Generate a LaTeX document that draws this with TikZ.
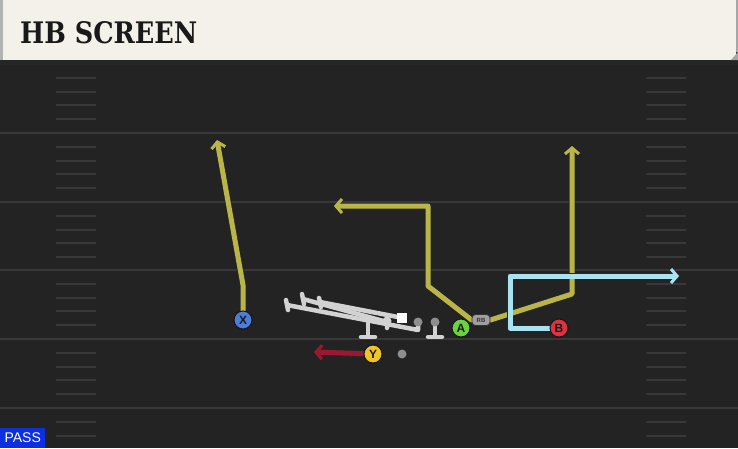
\documentclass[tikz,border=0pt]{standalone}
\usepackage{fontspec}
\setmainfont{Liberation Sans}
\newfontfamily\hdrfont{DejaVu Serif}
\usetikzlibrary{arrows.meta}
\definecolor{fieldbg}{HTML}{232323}
\definecolor{yardln}{HTML}{383838}
\definecolor{hdrbg}{HTML}{F4F1EA}
\definecolor{routeyel}{HTML}{BAB548}
\definecolor{routeblu}{HTML}{A9E3F1}
\definecolor{routered}{HTML}{9C1731}
\definecolor{olgray}{HTML}{D2D2D2}
\definecolor{dotgray}{HTML}{8E8E8E}
\definecolor{pX}{HTML}{4C7DD9}
\definecolor{pY}{HTML}{F0C424}
\definecolor{pA}{HTML}{6BD33C}
\definecolor{pB}{HTML}{E2323F}
\definecolor{passblue}{HTML}{0C2FE0}
\begin{document}
\begin{tikzpicture}[x=1pt,y=-1pt,
  player/.style={circle,draw=black!90,line width=1pt,minimum size=18pt,inner sep=0pt,font=\bfseries\fontsize{12}{12}\selectfont,text=black!90},
  rbbox/.style={fill=gray!75,draw=black!80,line width=0.8pt,rounded corners=3.5pt,minimum width=18pt,minimum height=11pt,inner sep=0pt,font=\bfseries\fontsize{6}{6}\selectfont,text=black!80},
  route/.style={line width=5pt,line join=round,line cap=round,preaction={draw=black!85,line width=6.5pt}},
  arrowed/.style={-{Straight Barb[length=6pt,width=14pt,line width=3pt]}},
  yard/.style={draw=yardln,line width=2.5pt},
  hashm/.style={draw=yardln,line width=2pt},
  oline/.style={draw=olgray,line width=4.5pt,line cap=round,line join=round}]
\useasboundingbox (0,0) rectangle (738,448);
% field
\fill[fieldbg] (0,0) rectangle (738,448);
\foreach \y in {133,202,270,339,408} \draw[yard] (0,\y) -- (738,\y);
\foreach \b in {64,133,202,270,339,408}{
  \foreach \k in {1,2,3,4}{
    \pgfmathsetmacro{\yy}{\b+13.75*\k}
    \ifdim \yy pt<446pt
      \draw[hashm] (56,\yy) -- (96,\yy);
      \draw[hashm] (646,\yy) -- (686,\yy);
    \fi
  }
}
% header
\fill[black!85] (0,58) rectangle (738,65);
\fill[hdrbg] (0,0) rectangle (736,60);
\fill[gray!60] (0,0) rectangle (3,60);
\fill[gray!70] (736,0) rectangle (738,52) -- (738,60) -- (731,60) -- cycle;
\node[anchor=base west,inner sep=0pt,text=black!90] (title) at (20,43) {\resizebox{177pt}{22pt}{\hdrfont\bfseries HB SCREEN}};
% pass badge
\node[fill=passblue,anchor=south west,minimum width=45pt,minimum height=20pt,inner sep=0pt,text=white,font=\fontsize{14}{14}\selectfont] (pass) at (0,448) {PASS};
% O-line
\draw[oline] (287,305) -- (418,330) -- (418,324);
\draw[oline] (303,299) -- (387,322) -- (387,328);
\draw[oline] (320,302) -- (403,318);
\draw[oline] (286,300) -- (288,310);
\draw[oline] (302,294) -- (304,304);
\draw[oline] (319,298) -- (321,307);
\draw[oline] (368,323) -- (368,336);
\draw[oline] (361,337) -- (375,337);
\draw[oline] (435,323) -- (435,336);
\draw[oline] (428,337) -- (442,337);
\fill[olgray] (387,321) circle (4.5pt);
\fill[white] (397,313) rectangle (407,323);
\fill[dotgray] (418,322) circle (4.5pt);
\fill[dotgray] (435,322) circle (4.5pt);
\node[circle,fill=dotgray,minimum size=9pt,inner sep=0pt] (ydot) at (402,354) {};
% players
\node[player,fill=pX] (X) at (243,320) {X};
\node[player,fill=pY] (Y) at (373,354) {Y};
\node[player,fill=pA] (A) at (461,328) {A};
\node[player,fill=pB] (B) at (559,328) {B};
\node[rbbox] (RB) at (481,320) {RB};
% route points
\coordinate (x1) at (243,285);
\coordinate (x2) at (217,140);
\coordinate (r1) at (428,286);
\coordinate (r2) at (428,206);
\coordinate (r3) at (334,206);
\coordinate (s1) at (572,294);
\coordinate (s2) at (572,146);
\coordinate (b1) at (510,328);
\coordinate (b2) at (510,276);
\coordinate (b3) at (679,276);
\coordinate (y1) at (314,352);
% routes
\draw[route,arrowed,draw=routeyel] (X) -- (x1) -- (x2);
\draw[route,arrowed,draw=routeyel] (RB.west) -- (r1) -- (r2) -- (r3);
\draw[route,arrowed,draw=routeyel] (RB.east) -- (s1) -- (s2);
\draw[route,arrowed,draw=routeblu] (B) -- (b1) -- (b2) -- (b3);
\draw[route,arrowed,draw=routered] (Y) -- (y1);
% redraw players on top
\node[player,fill=pX] at (X) {X};
\node[player,fill=pY] at (Y) {Y};
\node[player,fill=pB] at (B) {B};
\node[rbbox] at (RB) {RB};
\end{tikzpicture}
\end{document}
